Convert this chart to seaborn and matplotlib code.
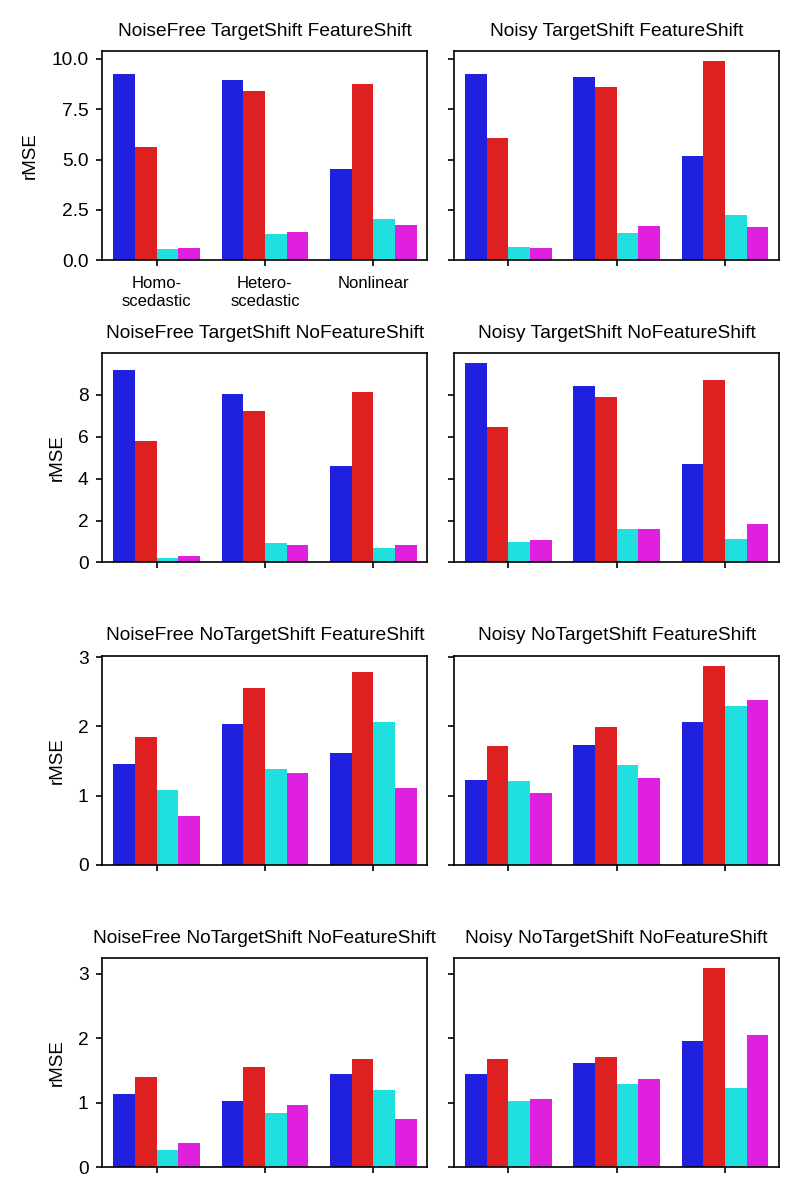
import matplotlib
matplotlib.use("Agg")
import matplotlib.pyplot as plt
import seaborn as sns
import pandas as pd

# ---- data ----
categories = ["Homo-\nscedastic", "Hetero-\nscedastic", "Nonlinear"]
methods = ["Method 1", "Method 2", "Method 3", "Method 4"]
palette = ["blue", "red", "cyan", "magenta"]

panel_titles = [
    "NoiseFree TargetShift FeatureShift", "Noisy TargetShift FeatureShift",
    "NoiseFree TargetShift NoFeatureShift", "Noisy TargetShift NoFeatureShift",
    "NoiseFree NoTargetShift FeatureShift", "Noisy NoTargetShift FeatureShift",
    "NoiseFree NoTargetShift NoFeatureShift", "Noisy NoTargetShift NoFeatureShift",
]

# values per method (rows) across categories (columns)
nf_ts_fs = [[9.25, 8.95, 4.55], [5.60, 8.40, 8.75], [0.55, 1.30, 2.05], [0.60, 1.40, 1.75]]
ny_ts_fs = [[9.25, 9.08, 5.20], [6.07, 8.60, 9.90], [0.65, 1.36, 2.27], [0.61, 1.71, 1.64]]
nf_ts_nfs = [[9.18, 8.05, 4.58], [5.77, 7.23, 8.14], [0.23, 0.91, 0.67], [0.31, 0.85, 0.85]]
ny_ts_nfs = [[9.50, 8.42, 4.71], [6.44, 7.90, 8.72], [0.99, 1.61, 1.12], [1.07, 1.60, 1.84]]
nf_nts_fs = [[1.45, 2.04, 1.61], [1.845, 2.56, 2.78], [1.087, 1.386, 2.07], [0.70, 1.33, 1.11]]
ny_nts_fs = [[1.226, 1.725, 2.07], [1.72, 1.99, 2.88], [1.217, 1.435, 2.29], [1.043, 1.26, 2.38]]
nf_nts_nfs = [[1.14, 1.03, 1.45], [1.39, 1.55, 1.67], [0.27, 0.83, 1.20], [0.38, 0.96, 0.75]]
ny_nts_nfs = [[1.45, 1.62, 1.96], [1.68, 1.70, 3.09], [1.03, 1.295, 1.23], [1.05, 1.36, 2.04]]

panel_values = [nf_ts_fs, ny_ts_fs, nf_ts_nfs, ny_ts_nfs,
                nf_nts_fs, ny_nts_fs, nf_nts_nfs, ny_nts_nfs]

row_yticks = [[0, 2.5, 5, 7.5, 10], [0, 2, 4, 6, 8], [0, 1, 2, 3], [0, 1, 2, 3]]

# ---- style ----
sns.set_style("ticks")
plt.rcParams["font.family"] = ["Liberation Sans", "DejaVu Sans"]
plt.rcParams.update({
    "axes.linewidth": 1.2,
    "xtick.major.size": 4.5, "ytick.major.size": 4.5,
    "xtick.major.width": 1.2, "ytick.major.width": 1.2,
    "xtick.major.pad": 7, "ytick.major.pad": 5.5,
    "xtick.labelsize": 12, "ytick.labelsize": 13.8,
    "axes.edgecolor": "black",
    "xtick.color": "black", "ytick.color": "black",
    "text.color": "black", "axes.labelcolor": "black",
})

fig, axes = plt.subplots(4, 2, figsize=(8, 12), dpi=100, sharey="row")
fig.subplots_adjust(left=0.128, right=0.974, top=0.9575, bottom=0.0275,
                    wspace=0.082, hspace=0.445)

for i, (ax, title, vals) in enumerate(zip(axes.flat, panel_titles, panel_values)):
    rows = []
    for m, mv in zip(methods, vals):
        for c, v in zip(categories, mv):
            rows.append({"category": c, "method": m, "rMSE": v})
    df = pd.DataFrame(rows)
    sns.barplot(data=df, x="category", y="rMSE", hue="method",
                order=categories, hue_order=methods, palette=palette,
                legend=False, ax=ax, linewidth=0)
    ax.set_title(title, fontsize=13.8, pad=11)
    ax.set_xlabel("")
    r, c = divmod(i, 2)
    ax.set_yticks(row_yticks[r])
    if c == 0:
        ax.set_ylabel("rMSE", fontsize=13.5, labelpad=9)
    else:
        ax.set_ylabel("")
    if i != 0:
        ax.set_xticks(range(len(categories)))
        ax.set_xticklabels([])
    for sp in ax.spines.values():
        sp.set_visible(True)

fig.savefig("out.png", dpi=100)
